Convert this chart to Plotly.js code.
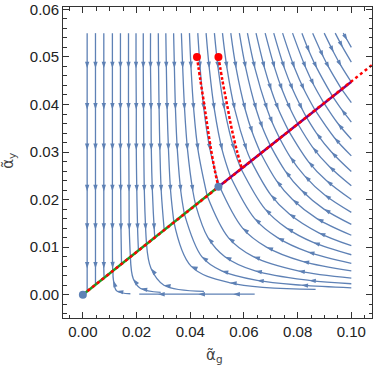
<!DOCTYPE html>
<html>
<head>
<meta charset="utf-8">
<script src="https://cdn.plot.ly/plotly-3.0.1.min.js"></script>
<style>html,body{margin:0;padding:0;background:#fff}#plot{width:374px;height:369px}</style>
</head>
<body>
<div id="plot"></div>
<script>
// streamlines above the ridge line (flowing down towards it)
const flowDown = [
  [[0.0016,0.055],[0.0016,0.0476],[0.0016,0.0389],[0.0016,0.0304],[0.0016,0.0217],[0.0016,0.0136],[0.0016,0.0055],[0.0016,0.0007]],
  [[0.0047,0.055],[0.0047,0.0476],[0.0047,0.0389],[0.0047,0.0304],[0.0047,0.0217],[0.0047,0.0136],[0.0047,0.0055],[0.0047,0.0021]],
  [[0.0078,0.055],[0.0078,0.0476],[0.0078,0.0389],[0.0078,0.0304],[0.0078,0.0217],[0.0078,0.0136],[0.0078,0.0055],[0.0079,0.0036]],
  [[0.011,0.055],[0.011,0.0476],[0.011,0.0389],[0.011,0.0304],[0.011,0.0217],[0.011,0.0136],[0.0111,0.0055],[0.0112,0.005]],
  [[0.014,0.055],[0.014,0.0476],[0.014,0.0389],[0.014,0.0304],[0.0141,0.0217],[0.0142,0.0136],[0.0144,0.0065]],
  [[0.017,0.055],[0.017,0.0476],[0.017,0.0389],[0.0171,0.0304],[0.0172,0.0217],[0.0173,0.0136],[0.0177,0.0079]],
  [[0.0198,0.055],[0.0198,0.0476],[0.0199,0.0389],[0.0199,0.0304],[0.0201,0.0217],[0.0204,0.0136],[0.0207,0.0093]],
  [[0.0225,0.055],[0.0225,0.0476],[0.0226,0.0389],[0.0227,0.0304],[0.0229,0.0217],[0.0234,0.0136],[0.0237,0.0107]],
  [[0.0252,0.055],[0.0252,0.0476],[0.0254,0.0389],[0.0255,0.0304],[0.0259,0.0217],[0.0266,0.0136],[0.0268,0.0121]],
  [[0.0281,0.055],[0.0282,0.0476],[0.0284,0.0389],[0.0287,0.0304],[0.0292,0.0217],[0.0303,0.0136]],
  [[0.0309,0.055],[0.0311,0.0476],[0.0314,0.0389],[0.0319,0.0304],[0.0327,0.0217],[0.0339,0.0153]],
  [[0.0338,0.055],[0.0341,0.0476],[0.0345,0.0389],[0.0352,0.0304],[0.0365,0.0217],[0.0378,0.017]],
  [[0.0367,0.055],[0.0372,0.0476],[0.0379,0.0389],[0.039,0.0304],[0.041,0.0217],[0.042,0.0189]],
  [[0.0397,0.055],[0.0403,0.0476],[0.0413,0.0389],[0.0429,0.0304],[0.0463,0.0208]],
  [[0.0428,0.055],[0.0437,0.0476],[0.0451,0.0389],[0.0474,0.0304],[0.0508,0.0229]],
  [[0.0459,0.055],[0.0471,0.0476],[0.049,0.0389],[0.0519,0.0304],[0.055,0.0248]],
  [[0.049,0.055],[0.0504,0.0476],[0.0528,0.0389],[0.0564,0.0304],[0.0589,0.0265]],
  [[0.052,0.055],[0.0537,0.0476],[0.0566,0.0389],[0.061,0.0304],[0.0626,0.0282]],
  [[0.0551,0.055],[0.0571,0.0476],[0.0605,0.0389],[0.0632,0.034],[0.0662,0.0298]],
  [[0.0583,0.055],[0.0607,0.0476],[0.0646,0.0389],[0.067,0.035],[0.0698,0.0314]],
  [[0.0613,0.055],[0.0641,0.0476],[0.0687,0.0389],[0.0707,0.036],[0.0732,0.033]],
  [[0.0645,0.055],[0.0677,0.0476],[0.0702,0.043],[0.0729,0.0389],[0.0766,0.0345]],
  [[0.0679,0.055],[0.0715,0.0476],[0.0743,0.043],[0.0774,0.0389],[0.08,0.036]],
  [[0.0711,0.055],[0.0751,0.0476],[0.0783,0.043],[0.0818,0.0389],[0.0832,0.0374]],
  [[0.0744,0.055],[0.0789,0.0476],[0.0825,0.043],[0.0864,0.0389]],
  [[0.0781,0.055],[0.0831,0.0476],[0.0861,0.044],[0.0897,0.0404]],
  [[0.0816,0.055],[0.0844,0.051],[0.0872,0.0476],[0.0929,0.0418]],
  [[0.0856,0.055],[0.0896,0.05],[0.0918,0.0476],[0.0963,0.0433]],
  [[0.0899,0.055],[0.0934,0.051],[0.0963,0.048],[0.1,0.0447]],
  [[0.094,0.055],[0.0968,0.052],[0.1,0.0489]],
  [[0.097,0.055],[0.0985,0.0535],[0.1,0.052]]
];

// streamlines below the ridge line (flowing left / up towards it)
const flowUp = [
  [[0.064,0.0001],[0.056,0.0001],[0.043,0.0001],[0.028,0.0001],[0.021,0.0001]],
  [[0.0177,0.0002],[0.0126,0.0008],[0.0114,0.003],[0.0112,0.005]],
  [[0.029,0.0005],[0.0215,0.0013],[0.0188,0.0033],[0.0177,0.0079]],
  [[0.0451,0.0007],[0.0302,0.002],[0.0254,0.0055],[0.0237,0.0107]],
  [[0.0867,0.0011],[0.0548,0.0025],[0.0403,0.006],[0.0339,0.0153]],
  [[0.1,0.00145],[0.0814,0.002],[0.0649,0.003],[0.0517,0.005],[0.0443,0.008],[0.0378,0.017]],
  [[0.1,0.0023],[0.0843,0.003],[0.0642,0.005],[0.0529,0.008],[0.0466,0.012],[0.042,0.0189]],
  [[0.1,0.0035],[0.0802,0.005],[0.0635,0.008],[0.0542,0.012],[0.0463,0.0208]],
  [[0.1,0.005],[0.0818,0.007],[0.0684,0.01],[0.0595,0.014],[0.0508,0.0229]],
  [[0.1,0.0066],[0.0838,0.009],[0.0725,0.012],[0.064,0.016],[0.055,0.0248]],
  [[0.1,0.0084],[0.0858,0.011],[0.0759,0.014],[0.0679,0.018],[0.0589,0.0265]],
  [[0.1,0.0103],[0.0879,0.013],[0.0768,0.017],[0.07,0.021],[0.0626,0.0282]],
  [[0.1,0.0125],[0.0872,0.016],[0.0781,0.02],[0.0721,0.024],[0.0662,0.0298]],
  [[0.1,0.0148],[0.0898,0.018],[0.0813,0.022],[0.0754,0.026],[0.0698,0.0314]],
  [[0.1,0.0173],[0.09,0.021],[0.0826,0.025],[0.0772,0.029],[0.0732,0.033]],
  [[0.1,0.02],[0.0907,0.024],[0.084,0.028],[0.0766,0.0345]],
  [[0.1,0.0229],[0.0917,0.027],[0.0856,0.031],[0.08,0.036]],
  [[0.1,0.0259],[0.0926,0.03],[0.087,0.034],[0.0832,0.0374]],
  [[0.1,0.0292],[0.0937,0.033],[0.0864,0.0389]],
  [[0.1,0.0327],[0.095,0.036],[0.0897,0.0404]],
  [[0.1,0.0363],[0.0963,0.039],[0.0929,0.0418]],
  [[0.1,0.0404],[0.0963,0.0433]]
];

// ridge line through the fixed points
const greenX = [0, 0.0505];
const greenY = [0, 0.0227];
const purpleX = [0.0505, 0.1];
const purpleY = [0.0227, 0.0448];
const ridgeX = [0, 0.1077];
const ridgeY = [0, 0.0483];

// the two red trajectories
const redAX = [0.0425, 0.0438, 0.0452, 0.0465, 0.0479, 0.0492, 0.0505];
const redAY = [0.05, 0.045, 0.04, 0.035, 0.03, 0.026, 0.0227];
const redBX = [0.0505, 0.052, 0.0537, 0.0554, 0.0575, 0.0592];
const redBY = [0.05, 0.045, 0.04, 0.035, 0.03, 0.0266];

// fixed points
const fixedX = [0, 0.0505];
const fixedY = [0, 0.0227];

const BLUE = '#5E81B5';
const FONT = 'Liberation Sans, Arial, sans-serif';

function streams(lines) {
  let x = [], y = [], s = [];
  lines.forEach(l => {
    l.forEach((p, i) => {
      x.push(p[0]); y.push(p[1]);
      s.push(i === 0 || i === l.length - 1 ? 0 : 7);
    });
    x.push(null); y.push(null); s.push(0);
  });
  return {
    x: x, y: y, mode: 'lines+markers', hoverinfo: 'skip',
    line: {color: BLUE, width: 1.3, shape: 'spline', smoothing: 1},
    marker: {symbol: 'arrow', size: s, color: BLUE, opacity: 1,
             angleref: 'previous', line: {width: 0}}
  };
}

let traces = [
  streams(flowDown),
  streams(flowUp),
  {x: greenX, y: greenY, mode: 'lines', line: {color: '#1f9a1f', width: 2.5}},
  {x: purpleX, y: purpleY, mode: 'lines', line: {color: '#800080', width: 2.5}},
  {x: ridgeX, y: ridgeY, mode: 'lines', line: {color: '#ff0000', width: 2.5, dash: '3px,3px'}},
  {x: redAX, y: redAY, mode: 'lines', line: {color: '#ff0000', width: 2.5, dash: '3px,2px', shape: 'spline'}},
  {x: redBX, y: redBY, mode: 'lines', line: {color: '#ff0000', width: 2.5, dash: '3px,2px', shape: 'spline'}},
  {x: [redAX[0], redBX[0]], y: [redAY[0], redBY[0]], mode: 'markers', marker: {color: '#ff0000', size: 8}},
  {x: fixedX, y: fixedY, mode: 'markers', marker: {color: BLUE, size: 8}}
];

const tickFont = {family: FONT, size: 15, color: '#222'};

let layout = {
  width: 374, height: 369,
  margin: {l: 63, r: 2, t: 7, b: 51},
  showlegend: false,
  paper_bgcolor: '#fff', plot_bgcolor: '#fff',
  xaxis: {
    range: [-0.0074, 0.1077], dtick: 0.02, tick0: 0, tickformat: '.2f',
    ticks: 'inside', ticklen: 6, tickcolor: '#333', mirror: 'allticks',
    showline: true, linecolor: '#333', linewidth: 1,
    showgrid: false, zeroline: false, tickfont: tickFont,
    minor: {dtick: 0.005, tick0: 0, ticks: 'inside', ticklen: 3.5, tickcolor: '#333', showgrid: false}
  },
  yaxis: {
    range: [-0.0049, 0.0605], dtick: 0.01, tick0: 0, tickformat: '.2f',
    ticks: 'inside', ticklen: 6, tickcolor: '#333', mirror: 'allticks',
    showline: true, linecolor: '#333', linewidth: 1,
    showgrid: false, zeroline: false, tickfont: tickFont,
    minor: {dtick: 0.002, tick0: 0, ticks: 'inside', ticklen: 3.5, tickcolor: '#333', showgrid: false}
  },
  annotations: [
    {text: 'α̃<sub>g</sub>', xref: 'paper', yref: 'paper', x: 0.49, y: -0.121,
     showarrow: false, xanchor: 'center', yanchor: 'middle',
     font: {family: 'DejaVu Sans', size: 15, color: '#444'}},
    {text: 'α̃<sub>y</sub>', xref: 'paper', yref: 'paper', x: -0.175, y: 0.505,
     showarrow: false, textangle: -90, xanchor: 'center', yanchor: 'middle',
     font: {family: 'DejaVu Sans', size: 15, color: '#444'}}
  ]
};

Plotly.newPlot('plot', traces, layout, {displayModeBar: false, staticPlot: true});
</script>
</body>
</html>
